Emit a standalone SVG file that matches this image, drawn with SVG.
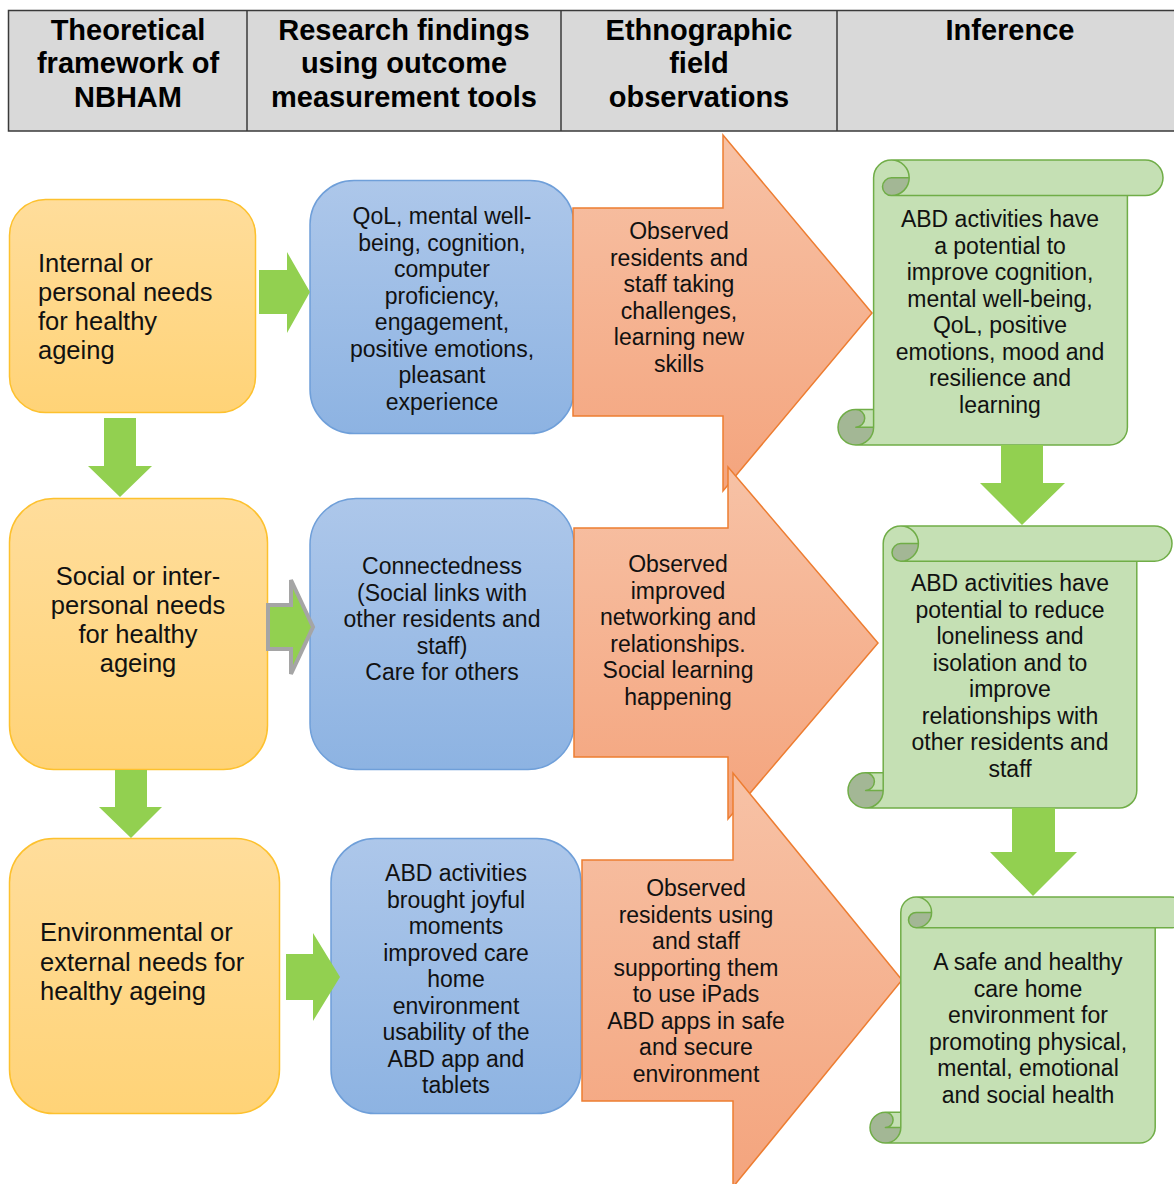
<svg xmlns="http://www.w3.org/2000/svg" width="1174" height="1184" viewBox="0 0 1174 1184">
  <defs>
    <linearGradient id="gradNeed" x1="0" y1="0" x2="0" y2="1">
      <stop offset="0" stop-color="#ffdd9b"/>
      <stop offset="1" stop-color="#ffd377"/>
    </linearGradient>
    <linearGradient id="gradFinding" x1="0" y1="0" x2="0" y2="1">
      <stop offset="0" stop-color="#adc7ea"/>
      <stop offset="1" stop-color="#8db3e2"/>
    </linearGradient>
    <linearGradient id="gradObs" x1="0" y1="0" x2="0" y2="1">
      <stop offset="0" stop-color="#f7c2a6"/>
      <stop offset="1" stop-color="#f4a47d"/>
    </linearGradient>
    <style>
      .hdr { font-family: "Liberation Sans", Arial, sans-serif; font-weight: bold; font-size: 29px; text-anchor: middle; fill: #000; }
      .need { fill: url(#gradNeed); stroke: #fdc12e; stroke-width: 1.5; }
      .finding { fill: url(#gradFinding); stroke: #6f9fd9; stroke-width: 1.5; }
      .obs { fill: url(#gradObs); stroke: #ed7d31; stroke-width: 1.5; stroke-linejoin: miter; }
      .paper { fill: #c5e0b4; stroke: none; }
      .curl { fill: #a3b795; stroke: none; }
      .edge { fill: none; stroke: #70ad47; stroke-width: 1.5; stroke-linejoin: round; }
      .flow { fill: #92d050; stroke: none; }
      .flow-outlined { fill: #92d050; stroke: #a5a5a5; stroke-width: 4; stroke-linejoin: miter; }
      .lbl { font-family: "Liberation Sans", Arial, sans-serif; font-size: 23px; fill: #111; text-anchor: middle; }
      .lbl-big { font-family: "Liberation Sans", Arial, sans-serif; font-size: 25.5px; fill: #111; }
    </style>
  </defs>

  <!-- column headings -->
  <g id="header">
    <rect x="8.5" y="10.5" width="1180" height="120.5" fill="#d9d9d9" stroke="#3a3a3a" stroke-width="1.5"/>
    <line x1="247" y1="10.5" x2="247" y2="131" stroke="#3a3a3a" stroke-width="1.5"/>
    <line x1="561" y1="10.5" x2="561" y2="131" stroke="#3a3a3a" stroke-width="1.5"/>
    <line x1="837" y1="10.5" x2="837" y2="131" stroke="#3a3a3a" stroke-width="1.5"/>
    <text class="hdr" x="128" y="39.5">Theoretical</text>
    <text class="hdr" x="128" y="73">framework of</text>
    <text class="hdr" x="128" y="106.5">NBHAM</text>
    <text class="hdr" x="404" y="39.5">Research findings</text>
    <text class="hdr" x="404" y="73">using outcome</text>
    <text class="hdr" x="404" y="106.5">measurement tools</text>
    <text class="hdr" x="699" y="39.5">Ethnographic</text>
    <text class="hdr" x="699" y="73">field</text>
    <text class="hdr" x="699" y="106.5">observations</text>
    <text class="hdr" x="1010" y="39.5">Inference</text>
  </g>

  <!-- column 1: needs -->
  <g id="need-internal">
    <rect class="need" x="9.5" y="199.5" width="246" height="213" rx="36"/>
    <text class="lbl-big" x="38" y="272">Internal or</text>
    <text class="lbl-big" x="38" y="301">personal needs</text>
    <text class="lbl-big" x="38" y="330">for healthy</text>
    <text class="lbl-big" x="38" y="359">ageing</text>
  </g>
  <g id="need-social">
    <rect class="need" x="9.5" y="498.5" width="258" height="271" rx="44"/>
    <text class="lbl-big" x="138" y="585" text-anchor="middle">Social or inter-</text>
    <text class="lbl-big" x="138" y="614" text-anchor="middle">personal needs</text>
    <text class="lbl-big" x="138" y="643" text-anchor="middle">for healthy</text>
    <text class="lbl-big" x="138" y="672" text-anchor="middle">ageing</text>
  </g>
  <g id="need-environmental">
    <rect class="need" x="9.5" y="838.5" width="270" height="275" rx="44"/>
    <text class="lbl-big" x="40" y="941">Environmental or</text>
    <text class="lbl-big" x="40" y="971">external needs for</text>
    <text class="lbl-big" x="40" y="1000">healthy ageing</text>
  </g>

  <!-- column 2: research findings -->
  <g id="finding-wellbeing">
    <rect class="finding" x="310" y="180.5" width="264" height="253" rx="44"/>
    <text class="lbl" x="442" y="224">QoL, mental well-</text>
    <text class="lbl" x="442" y="250.5">being, cognition,</text>
    <text class="lbl" x="442" y="277">computer</text>
    <text class="lbl" x="442" y="303.5">proficiency,</text>
    <text class="lbl" x="442" y="330">engagement,</text>
    <text class="lbl" x="442" y="356.5">positive emotions,</text>
    <text class="lbl" x="442" y="383">pleasant</text>
    <text class="lbl" x="442" y="409.5">experience</text>
  </g>
  <g id="finding-connectedness">
    <rect class="finding" x="310" y="498.5" width="264" height="271" rx="46"/>
    <text class="lbl" x="442" y="574">Connectedness</text>
    <text class="lbl" x="442" y="600.5">(Social links with</text>
    <text class="lbl" x="442" y="627">other residents and</text>
    <text class="lbl" x="442" y="653.5">staff)</text>
    <text class="lbl" x="442" y="680">Care for others</text>
  </g>
  <g id="finding-environment">
    <rect class="finding" x="331" y="838.5" width="250" height="275" rx="44"/>
    <text class="lbl" x="456" y="881">ABD activities</text>
    <text class="lbl" x="456" y="907.5">brought joyful</text>
    <text class="lbl" x="456" y="934">moments</text>
    <text class="lbl" x="456" y="960.5">improved care</text>
    <text class="lbl" x="456" y="987">home</text>
    <text class="lbl" x="456" y="1013.5">environment</text>
    <text class="lbl" x="456" y="1040">usability of the</text>
    <text class="lbl" x="456" y="1066.5">ABD app and</text>
    <text class="lbl" x="456" y="1093">tablets</text>
  </g>

  <!-- column 3: field observations (block arrows) -->
  <g id="obs-challenges">
    <polygon class="obs" points="573,208 723,208 723,135 872,313 723,491 723,416 573,416"/>
    <text class="lbl" x="679" y="239">Observed</text>
    <text class="lbl" x="679" y="265.5">residents and</text>
    <text class="lbl" x="679" y="292">staff taking</text>
    <text class="lbl" x="679" y="318.5">challenges,</text>
    <text class="lbl" x="679" y="345">learning new</text>
    <text class="lbl" x="679" y="371.5">skills</text>
  </g>
  <g id="obs-networking">
    <polygon class="obs" points="574,528 728,528 728,467 878,643 728,819 728,757 574,757"/>
    <text class="lbl" x="678" y="572">Observed</text>
    <text class="lbl" x="678" y="598.5">improved</text>
    <text class="lbl" x="678" y="625">networking and</text>
    <text class="lbl" x="678" y="651.5">relationships.</text>
    <text class="lbl" x="678" y="678">Social learning</text>
    <text class="lbl" x="678" y="704.5">happening</text>
  </g>
  <g id="obs-ipads">
    <polygon class="obs" points="582,860 733,860 733,773 902,980 733,1187 733,1101 582,1101"/>
    <text class="lbl" x="696" y="896">Observed</text>
    <text class="lbl" x="696" y="922.5">residents using</text>
    <text class="lbl" x="696" y="949">and staff</text>
    <text class="lbl" x="696" y="975.5">supporting them</text>
    <text class="lbl" x="696" y="1002">to use iPads</text>
    <text class="lbl" x="696" y="1028.5">ABD apps in safe</text>
    <text class="lbl" x="696" y="1055">and secure</text>
    <text class="lbl" x="696" y="1081.5">environment</text>
  </g>

  <!-- column 4: inferences (vertical scrolls) -->
  <g id="inference-cognition">
    <g transform="translate(838,160)">
      <path class="paper" d="M35.6,17.8 A17.8 17.8 0 0 1 53.4,0 L307.2,0 A17.8 17.8 0 0 1 307.2,35.6 L289.4,35.6 L289.4,267.2 A17.8 17.8 0 0 1 271.6,285 L17.8,285 L17.8,249.4 L35.6,249.4 Z"/>
      <path class="curl" d="M71.2,17.8 A17.8 17.8 0 0 1 53.4,35.6 A8.9 8.9 0 0 1 53.4,17.8 Z M35.6,267.2 A17.8 17.8 0 1 1 17.8,249.4 A8.9 8.9 0 0 1 17.8,267.2 Z"/>
      <path class="edge" d="M35.6,249.4 L35.6,17.8 A17.8 17.8 0 0 1 53.4,0 L307.2,0 A17.8 17.8 0 0 1 307.2,35.6 L289.4,35.6 L289.4,267.2 A17.8 17.8 0 0 1 271.6,285 L17.8,285 A17.8 17.8 0 0 1 17.8,249.4 Z M53.4,0 A17.8 17.8 0 0 1 53.4,35.6 A8.9 8.9 0 0 1 53.4,17.8 L71.2,17.8 M289.4,35.6 L53.4,35.6 M17.8,249.4 A8.9 8.9 0 0 1 17.8,267.2 L35.6,267.2 M17.8,285 A17.8 17.8 0 0 0 35.6,267.2 L35.6,249.4"/>
    </g>
    <text class="lbl" x="1000" y="227">ABD activities have</text>
    <text class="lbl" x="1000" y="253.5">a potential to</text>
    <text class="lbl" x="1000" y="280">improve cognition,</text>
    <text class="lbl" x="1000" y="306.5">mental well-being,</text>
    <text class="lbl" x="1000" y="333">QoL, positive</text>
    <text class="lbl" x="1000" y="359.5">emotions, mood and</text>
    <text class="lbl" x="1000" y="386">resilience and</text>
    <text class="lbl" x="1000" y="412.5">learning</text>
  </g>
  <g id="inference-loneliness">
    <g transform="translate(848,526)">
      <path class="paper" d="M35.2,17.6 A17.6 17.6 0 0 1 52.8,0 L306.4,0 A17.6 17.6 0 0 1 306.4,35.2 L288.8,35.2 L288.8,264.4 A17.6 17.6 0 0 1 271.2,282 L17.6,282 L17.6,246.8 L35.2,246.8 Z"/>
      <path class="curl" d="M70.4,17.6 A17.6 17.6 0 0 1 52.8,35.2 A8.8 8.8 0 0 1 52.8,17.6 Z M35.2,264.4 A17.6 17.6 0 1 1 17.6,246.8 A8.8 8.8 0 0 1 17.6,264.4 Z"/>
      <path class="edge" d="M35.2,246.8 L35.2,17.6 A17.6 17.6 0 0 1 52.8,0 L306.4,0 A17.6 17.6 0 0 1 306.4,35.2 L288.8,35.2 L288.8,264.4 A17.6 17.6 0 0 1 271.2,282 L17.6,282 A17.6 17.6 0 0 1 17.6,246.8 Z M52.8,0 A17.6 17.6 0 0 1 52.8,35.2 A8.8 8.8 0 0 1 52.8,17.6 L70.4,17.6 M288.8,35.2 L52.8,35.2 M17.6,246.8 A8.8 8.8 0 0 1 17.6,264.4 L35.2,264.4 M17.6,282 A17.6 17.6 0 0 0 35.2,264.4 L35.2,246.8"/>
    </g>
    <text class="lbl" x="1010" y="591">ABD activities have</text>
    <text class="lbl" x="1010" y="617.5">potential to reduce</text>
    <text class="lbl" x="1010" y="644">loneliness and</text>
    <text class="lbl" x="1010" y="670.5">isolation and to</text>
    <text class="lbl" x="1010" y="697">improve</text>
    <text class="lbl" x="1010" y="723.5">relationships with</text>
    <text class="lbl" x="1010" y="750">other residents and</text>
    <text class="lbl" x="1010" y="776.5">staff</text>
  </g>
  <g id="inference-environment">
    <g transform="translate(870,897)">
      <path class="paper" d="M30.8,15.4 A15.4 15.4 0 0 1 46.2,0 L300.6,0 A15.4 15.4 0 0 1 300.6,30.8 L285.2,30.8 L285.2,230.6 A15.4 15.4 0 0 1 269.8,246 L15.4,246 L15.4,215.2 L30.8,215.2 Z"/>
      <path class="curl" d="M61.6,15.4 A15.4 15.4 0 0 1 46.2,30.8 A7.7 7.7 0 0 1 46.2,15.4 Z M30.8,230.6 A15.4 15.4 0 1 1 15.4,215.2 A7.7 7.7 0 0 1 15.4,230.6 Z"/>
      <path class="edge" d="M30.8,215.2 L30.8,15.4 A15.4 15.4 0 0 1 46.2,0 L300.6,0 A15.4 15.4 0 0 1 300.6,30.8 L285.2,30.8 L285.2,230.6 A15.4 15.4 0 0 1 269.8,246 L15.4,246 A15.4 15.4 0 0 1 15.4,215.2 Z M46.2,0 A15.4 15.4 0 0 1 46.2,30.8 A7.7 7.7 0 0 1 46.2,15.4 L61.6,15.4 M285.2,30.8 L46.2,30.8 M15.4,215.2 A7.7 7.7 0 0 1 15.4,230.6 L30.8,230.6 M15.4,246 A15.4 15.4 0 0 0 30.8,230.6 L30.8,215.2"/>
    </g>
    <text class="lbl" x="1028" y="970">A safe and healthy</text>
    <text class="lbl" x="1028" y="996.5">care home</text>
    <text class="lbl" x="1028" y="1023">environment for</text>
    <text class="lbl" x="1028" y="1049.5">promoting physical,</text>
    <text class="lbl" x="1028" y="1076">mental, emotional</text>
    <text class="lbl" x="1028" y="1102.5">and social health</text>
  </g>

  <!-- green flow arrows -->
  <g id="connectors">
    <polygon class="flow" points="104,418 136,418 136,466 152,466 120,497 88,466 104,466"/>
    <polygon class="flow" points="115,770 147,770 147,807 162,807 131,838 99,807 115,807"/>
    <polygon class="flow" points="259,270 287,270 287,252 310,292 287,333 287,314 259,314"/>
    <polygon class="flow-outlined" points="268,605 291,605 291,580 313,627 291,674 291,649 268,649"/>
    <polygon class="flow" points="286,954 313,954 313,933 340,977 313,1021 313,1000 286,1000"/>
    <polygon class="flow" points="1001,445 1043,445 1043,483 1065,483 1022,525 980,483 1001,483"/>
    <polygon class="flow" points="1012,808 1055,808 1055,852 1077,852 1033,896 990,852 1012,852"/>
  </g>
</svg>
